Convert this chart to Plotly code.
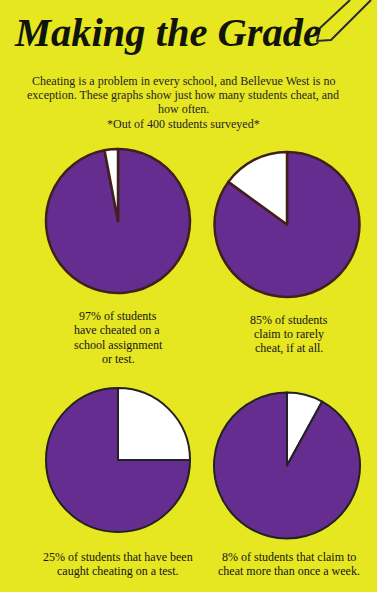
import plotly.graph_objects as go

W, H = 377, 592
BG = "#E6E621"
PURPLE = "#652D90"
WHITE = "#FFFFFF"
BROWN = "#40201A"
INK = "#1F1F2A"

labels_a = ["Yes", "No"]
values = [
    [97, 3],
    [85, 15],
    [25, 75],
    [8, 92],
]
colours = [
    [PURPLE, WHITE],
    [PURPLE, WHITE],
    [WHITE, PURPLE],
    [WHITE, PURPLE],
]
line_colours = [BROWN, BROWN, "#222222", "#222222"]
line_widths = [2.5, 2.5, 2, 2]
centres = [(118, 221), (287, 224.5), (118, 460), (287, 465.5)]
radii = [72, 72.5, 72, 73]

title = "Making the Grade"
intro = [
    ("Cheating is a problem in every school, and Bellevue West is no", 81),
    ("exception. These graphs show just how many students cheat, and", 95),
    ("how often.", 109),
    ("*Out of 400 students surveyed*", 124),
]
captions = [
    ("97% of students", 118, 316), ("have cheated on a", 117, 330),
    ("school assignment", 118, 345), ("or test.", 118, 359),
    ("85% of students", 289, 320), ("claim to rarely", 289, 334), ("cheat, if at all.", 289, 348),
    ("25% of students that have been", 118, 557), ("caught cheating on a test.", 118, 571),
    ("8% of students that claim to", 289, 557), ("cheat more than once a week.", 289, 571),
]

fig = go.Figure()
for v, c, lc, lw, (cx, cy), r in zip(values, colours, line_colours, line_widths, centres, radii):
    fig.add_trace(go.Pie(
        labels=labels_a, values=v, sort=False, direction="clockwise", rotation=0,
        marker=dict(colors=c, line=dict(color=lc, width=lw)),
        textinfo="none", hoverinfo="skip", showlegend=False,
        domain=dict(x=[(cx - r) / W, (cx + r) / W], y=[1 - (cy + r) / H, 1 - (cy - r) / H]),
    ))

def note(text, x, y, size, family="Liberation Serif", color=INK):
    fig.add_annotation(text=text, x=x / W, y=1 - y / H, xref="paper", yref="paper",
                       showarrow=False, xanchor="center", yanchor="middle",
                       font=dict(family=family, size=size, color=color))

note("<b><i>" + title + "</i></b>", 167, 33, 40.5, color="#10140A")
for t, y in intro:
    note(t, 183, y, 12)
for t, x, y in captions:
    note(t, x, y, 12, color="#15151A")

# pencil decoration
def P(x, y):
    return f"{x / W:.4f} {1 - y / H:.4f}"
pencil = ("M" + P(350, 0) + " L" + P(320, 28) + " L" + P(317, 41) + " L" + P(331, 40) + " L" + P(371, 0))
fig.add_shape(type="path", path=pencil, xref="paper", yref="paper",
              line=dict(color="#2B2B3A", width=2), fillcolor="rgba(0,0,0,0)")

fig.update_layout(width=W, height=H, margin=dict(l=0, r=0, t=0, b=0),
                  paper_bgcolor=BG, plot_bgcolor=BG, showlegend=False)
fig.write_html("out.html", config=dict(displayModeBar=False),
               post_script="document.body.style.margin='0';document.body.style.overflow='hidden';document.documentElement.style.background='" + BG + "';")
